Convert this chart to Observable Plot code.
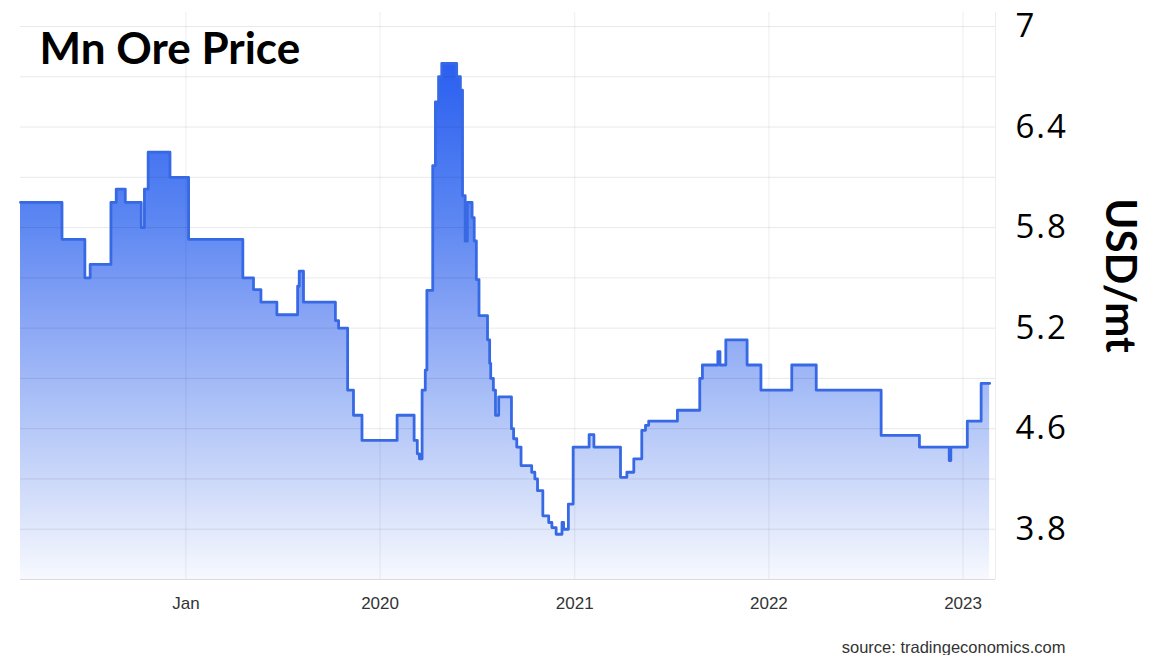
<!DOCTYPE html>
<html>
<head>
<meta charset="utf-8">
<script src="https://cdn.jsdelivr.net/npm/d3@7"></script>
<script src="https://cdn.jsdelivr.net/npm/@observablehq/plot@0.6"></script>
<style>
  html, body { margin: 0; padding: 0; background: #fff; }
  #chart svg { display: block; }
  [aria-label="y-axis tick label"] text { letter-spacing: 2px; }
</style>
</head>
<body>
<div id="chart"></div>
<script>
// ---- data ----
const titleText = "Mn Ore Price";
const unitLabel = "USD/mt";
const sourceText = "source: tradingeconomics.com";

const dates = [
  "2018-02-24","2018-05-13","2018-06-25","2018-07-05","2018-08-13","2018-08-23",
  "2018-09-09","2018-10-09","2018-10-15","2018-10-22","2018-12-02","2019-01-06",
  "2019-04-18","2019-05-08","2019-05-22","2019-06-21","2019-07-30","2019-08-02",
  "2019-08-10","2019-10-09","2019-10-15","2019-11-01","2019-11-12","2019-11-28",
  "2020-02-02","2020-03-05","2020-03-11","2020-03-15","2020-03-20","2020-03-26",
  "2020-03-29","2020-04-09","2020-04-14","2020-04-20","2020-04-26","2020-05-24",
  "2020-05-31","2020-06-04","2020-06-09","2020-06-13","2020-06-22","2020-06-26",
  "2020-06-30","2020-07-05","2020-07-21","2020-07-25","2020-07-27","2020-08-01",
  "2020-08-05","2020-08-11","2020-09-04","2020-09-08","2020-09-14","2020-09-22",
  "2020-10-12","2020-10-18","2020-10-23","2020-11-02","2020-11-13","2020-11-19",
  "2020-11-27","2020-12-08","2020-12-11","2020-12-20","2020-12-29","2021-01-28",
  "2021-02-06","2021-03-28","2021-04-09","2021-04-22","2021-05-07","2021-05-14",
  "2021-05-20","2021-07-13","2021-08-24","2021-08-29","2021-09-27","2021-10-01",
  "2021-10-12","2021-11-21","2021-12-17","2022-02-13","2022-03-31","2022-07-31",
  "2022-10-11","2022-12-06","2022-12-09","2023-01-09","2023-02-04","2023-02-20"
];
const prices = [
  5.95, 5.73, 5.50, 5.58, 5.95, 6.03,
  5.95, 5.80, 6.03, 6.25, 6.10, 5.73,
  5.50, 5.43, 5.355, 5.28, 5.45, 5.54,
  5.355, 5.245, 5.20, 4.83, 4.68, 4.53,
  4.68, 4.53, 4.45, 4.42, 4.83, 4.95,
  5.425, 6.17, 6.55, 6.70, 6.78, 6.70,
  6.62, 5.99, 5.72, 5.95, 5.86, 5.72,
  5.49, 5.275, 5.13, 4.99, 4.90, 4.83,
  4.68, 4.79, 4.60, 4.54, 4.49, 4.38,
  4.34, 4.30, 4.23, 4.08, 4.04, 4.01,
  3.97, 4.04, 4.00, 4.15, 4.49, 4.565,
  4.49, 4.31, 4.34, 4.42, 4.59, 4.62,
  4.645, 4.71, 4.90, 4.98, 5.06, 4.98,
  5.13, 4.98, 4.83, 4.98, 4.83, 4.56,
  4.49, 4.41, 4.49, 4.645, 4.87, 4.87
];

// axis ticks and their printed labels
const xTickDates = ["2019-01-01","2020-01-01","2021-01-01","2022-01-01","2023-01-01"];
const xTickLabels = ["Jan","2020","2021","2022","2023"];
const yTickValues = [7, 6.4, 5.8, 5.2, 4.6, 4.0];
const yTickLabels = ["7","6.4","5.8","5.2","4.6","3.8"];
const yGridValues = [3.7, 4.0, 4.3, 4.6, 4.9, 5.2, 5.5, 5.8, 6.1, 6.4, 6.7, 7.0];
const xDomain = ["2018-02-24", "2023-03-03"];
const yDomain = [3.7, 7.0835];

// ---- build table ----
const data = dates.map((d, i) => ({date: new Date(d), value: prices[i]}));
const xTicks = xTickDates.map(d => new Date(d));
const xLabelOf = new Map(xTicks.map((d, i) => [+d, xTickLabels[i]]));
const yLabelOf = new Map(yTickValues.map((v, i) => [v, yTickLabels[i]]));
const yBase = yDomain[0];

const chart = Plot.plot({
  width: 1161,
  height: 655,
  marginLeft: 20,
  marginRight: 166,
  marginTop: 12,
  marginBottom: 76,
  style: {background: "#fff", overflow: "visible"},
  x: {type: "utc", domain: xDomain.map(d => new Date(d))},
  y: {domain: yDomain},
  marks: [
    Plot.areaY(data, {x: "date", y1: yBase, y2: "value", curve: "step-after", fill: "url(#mnGrad)"}),
    Plot.ruleY(yGridValues.slice(1), {stroke: "#000", strokeOpacity: 0.09, strokeWidth: 1}),
    Plot.ruleY([yBase], {stroke: "#dcdcdc", strokeWidth: 1.2}),
    Plot.ruleX(xTicks, {stroke: "#000", strokeOpacity: 0.07, strokeWidth: 1}),
    Plot.ruleX([new Date(xDomain[1])], {stroke: "#000", strokeOpacity: 0.07, strokeWidth: 1}),
    Plot.lineY(data, {x: "date", y: "value", curve: "step-after", stroke: "#3769e4", strokeWidth: 2.8, strokeLinejoin: "round"}),
    Plot.axisX({ticks: xTicks, tickFormat: d => xLabelOf.get(+d), tickSize: 0, tickPadding: 17,
      fontSize: 17, fontFamily: "Liberation Sans, Arial, sans-serif", fill: "#333", label: null}),
    Plot.axisY({anchor: "right", ticks: yTickValues, tickFormat: d => yLabelOf.get(d), tickSize: 0, tickPadding: 20,
      fontSize: 33, fontFamily: "Open Sans, sans-serif", fill: "#000", textAnchor: "start", label: null}),
    Plot.text([titleText], {frameAnchor: "top-left", dx: 19, dy: 20, lineAnchor: "top", textAnchor: "start",
      fontSize: 44, fontWeight: "bold", fontFamily: "Lato, sans-serif", fill: "#000"}),
    Plot.text([unitLabel], {frameAnchor: "top-right", dx: 124, dy: 263, rotate: 90, lineAnchor: "middle", textAnchor: "middle",
      fontSize: 42, fontWeight: "bold", fontFamily: "Lato, sans-serif", fill: "#000"}),
    Plot.text([sourceText], {frameAnchor: "bottom-right", dx: 70, dy: 68, lineAnchor: "middle", textAnchor: "end",
      fontSize: 16.5, fontFamily: "Liberation Sans, Arial, sans-serif", fill: "#333"})
  ]
});

// vertical gradient for the area fill, placed through the y scale
const ys = chart.scale("y");
const gTop = ys.apply(d3.max(prices));
const gBottom = ys.apply(yBase);
const ns = "http://www.w3.org/2000/svg";
const defs = document.createElementNS(ns, "defs");
const grad = document.createElementNS(ns, "linearGradient");
grad.setAttribute("id", "mnGrad");
grad.setAttribute("gradientUnits", "userSpaceOnUse");
grad.setAttribute("x1", 0); grad.setAttribute("x2", 0);
grad.setAttribute("y1", gTop); grad.setAttribute("y2", gBottom);
const stopColors = ["#2a5ff0", "#5b86f2", "#8aa6f5", "#a9bff7", "#d5dffa", "#f7f9fe"];
const stopOffsets = [0, 0.3, 0.5, 0.65, 0.85, 1];
stopOffsets.forEach((o, i) => {
  const s = document.createElementNS(ns, "stop");
  s.setAttribute("offset", o);
  s.setAttribute("stop-color", stopColors[i]);
  grad.appendChild(s);
});
defs.appendChild(grad);
chart.insertBefore(defs, chart.firstChild);

document.getElementById("chart").appendChild(chart);
</script>
</body>
</html>
